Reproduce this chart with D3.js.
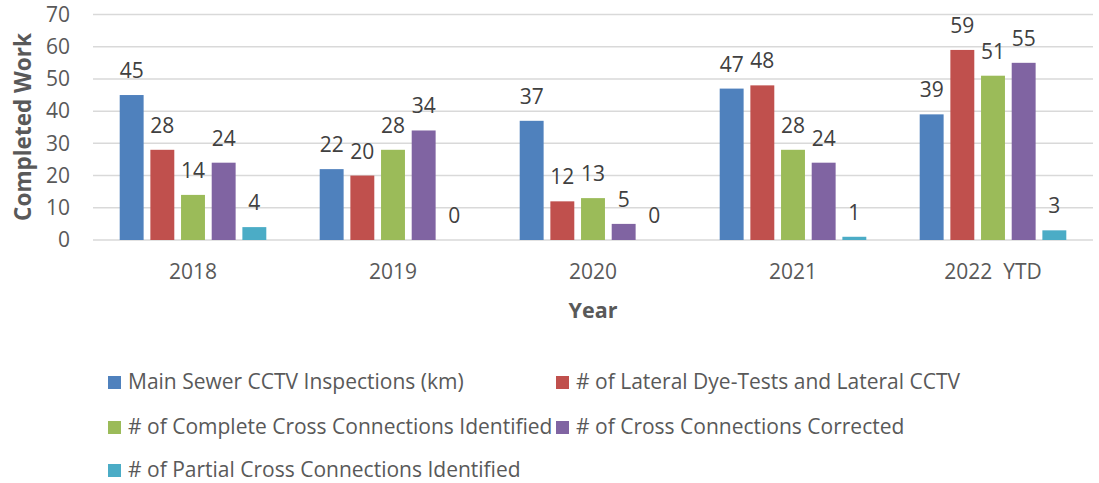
<!DOCTYPE html>
<html>
<head>
<meta charset="utf-8">
<script src="https://cdn.jsdelivr.net/npm/d3@7"></script>
<style>
  body { margin: 0; background: #fff; }
  svg { display: block; font-family: "Open Sans", sans-serif; }
</style>
</head>
<body>
<svg id="chart" width="1099" height="483"></svg>
<script>
// ===== DATOS =====
const years = ["2018", "2019", "2020", "2021", "2022  YTD"];
const seriesNames = [
  "Main Sewer CCTV Inspections (km)",
  "# of Lateral Dye-Tests and Lateral CCTV",
  "# of Complete Cross Connections Identified",
  "# of Cross Connections Corrected",
  "# of Partial Cross Connections Identified"
];
const mainSewer = [45, 22, 37, 47, 39];
const lateralTests = [28, 20, 12, 48, 59];
const completeIdentified = [14, 28, 13, 28, 51];
const corrected = [24, 34, 5, 24, 55];
const partialIdentified = [4, 0, 0, 1, 3];
const yTicks = [0, 10, 20, 30, 40, 50, 60, 70];
const colors = ["#4F81BD", "#C0504D", "#9BBB59", "#8064A2", "#4BACC6"];

const values = [mainSewer, lateralTests, completeIdentified, corrected, partialIdentified];

// ===== ESCALAS =====
const svg = d3.select("#chart");
const plotLeft = 93, plotRight = 1093, plotTop = 14.5, plotBottom = 240;

const x0 = d3.scaleBand().domain(years).range([plotLeft, plotRight]).padding(0);
const x1 = d3.scaleBand().domain(seriesNames)
  .range([26.7, x0.bandwidth() - 26.7]).paddingInner(0.22);
const y = d3.scaleLinear().domain([0, 70]).range([plotBottom, plotTop]);

// gridlines
svg.append("g")
  .selectAll("line")
  .data(yTicks)
  .enter()
  .append("line")
  .attr("x1", plotLeft).attr("x2", plotRight)
  .attr("y1", d => y(d)).attr("y2", d => y(d))
  .attr("stroke", "#D9D9D9")
  .attr("stroke-width", 1.5);

// eje y
const yAxis = d3.axisLeft(y).tickValues(yTicks).tickSize(0).tickPadding(0);
svg.append("g")
  .attr("transform", `translate(70,0)`)
  .call(yAxis)
  .call(g => g.select(".domain").remove())
  .selectAll("text")
  .attr("fill", "#595959")
  .attr("font-size", 21)
  .attr("font-family", "Open Sans");

// eje x
const xAxis = d3.axisBottom(x0).tickSize(0).tickPadding(0);
svg.append("g")
  .attr("transform", `translate(0,264)`)
  .call(xAxis)
  .call(g => g.select(".domain").remove())
  .selectAll("text")
  .attr("fill", "#595959")
  .attr("font-size", 21)
  .attr("font-family", "Open Sans")
  .style("white-space", "pre");

// ===== BARRAS =====
const grupos = svg.append("g")
  .selectAll("g")
  .data(years)
  .enter()
  .append("g")
  .attr("transform", d => `translate(${x0(d)},0)`);

const filas = (yr, i) => seriesNames.map((s, k) => ({ serie: s, k: k, v: values[k][i] }));

grupos.selectAll("rect")
  .data(filas)
  .enter()
  .append("rect")
  .attr("x", d => x1(d.serie))
  .attr("width", x1.bandwidth())
  .attr("y", d => y(d.v))
  .attr("height", d => plotBottom - y(d.v))
  .attr("fill", d => colors[d.k]);

grupos.selectAll("text")
  .data(filas)
  .enter()
  .append("text")
  .attr("x", d => x1(d.serie) + x1.bandwidth() / 2)
  .attr("y", d => y(d.v) - 17)
  .attr("text-anchor", "middle")
  .attr("fill", "#404040")
  .attr("font-size", 21)
  .text(d => d.v);

// ===== TITULOS =====
svg.append("text")
  .attr("transform", "translate(31,127) rotate(-90)")
  .attr("text-anchor", "middle")
  .attr("font-size", 22.5)
  .attr("font-weight", "bold")
  .attr("fill", "#595959")
  .text("Completed Work");

svg.append("text")
  .attr("x", 593)
  .attr("y", 318)
  .attr("text-anchor", "middle")
  .attr("font-size", 21.5)
  .attr("font-weight", "bold")
  .attr("fill", "#595959")
  .text("Year");

// ===== LEYENDA =====
const legendPos = [[108, 382], [556, 382], [108, 427], [556, 427], [108, 470]];
const leyenda = svg.append("g")
  .selectAll("g")
  .data(seriesNames)
  .enter()
  .append("g")
  .attr("transform", (d, i) => `translate(${legendPos[i][0]},${legendPos[i][1]})`);

leyenda.append("rect")
  .attr("x", 0).attr("y", -6)
  .attr("width", 13).attr("height", 13)
  .attr("fill", (d, i) => colors[i]);

leyenda.append("text")
  .attr("x", 20)
  .attr("y", 0)
  .attr("dy", "0.35em")
  .attr("font-size", 21)
  .attr("fill", "#595959")
  .text(d => d);
</script>
</body>
</html>
